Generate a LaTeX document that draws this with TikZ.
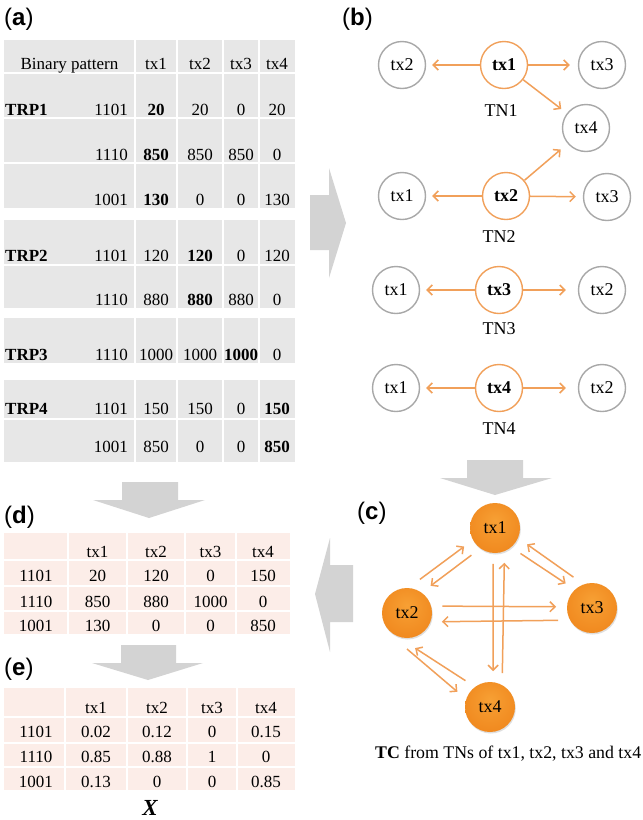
\documentclass[tikz,border=0pt]{standalone}
\usepackage{fontspec}
\setmainfont{Liberation Serif}
\newfontfamily\labfont{Liberation Sans}
\usetikzlibrary{arrows.meta,shadows}
\definecolor{tgrey}{RGB}{231,231,231}
\definecolor{tpink}{RGB}{252,237,232}
\definecolor{bigarrow}{RGB}{211,211,211}
\definecolor{orangeline}{RGB}{241,160,90}
\definecolor{greyline}{RGB}{168,168,168}
\definecolor{orbin}{RGB}{247,160,52}
\definecolor{orbmid}{RGB}{240,136,30}
\definecolor{orbout}{RGB}{205,100,15}
\pgfdeclareradialshading{orb}{\pgfpoint{0bp}{8bp}}{color(0bp)=(orbin); color(30bp)=(orbmid); color(45bp)=(orbout); color(50bp)=(orbout)}
\tikzset{
  tcell/.style={font=\fontsize{17}{20}\selectfont, inner sep=0pt, anchor=base},
  bcirc/.style={circle, draw=greyline, line width=1.4pt, minimum size=47pt, inner sep=0pt, font=\fontsize{18}{21}\selectfont},
  bcent/.style={bcirc, draw=orangeline, font=\fontsize{18}{21}\selectfont\bfseries},
  barr/.style={draw=orangeline, line width=1.5pt, -{Straight Barb[length=5pt,width=10pt]}},
  orbnode/.style={circle, shading=orb, minimum size=50pt, inner sep=0pt, outer sep=11pt, font=\fontsize{18}{21}\selectfont,
    drop shadow={shadow xshift=0.8pt, shadow yshift=-1.5pt, opacity=0.25}},
  carr/.style={draw=orangeline, line width=1.5pt, -{Straight Barb[length=5pt,width=10pt]}},
  plabel/.style={font=\fontsize{24}{28}\selectfont\labfont, inner sep=0pt, anchor=base west},
  tnlab/.style={font=\fontsize{18}{21}\selectfont, inner sep=0pt},
  gridline/.style={white, line width=1.5pt}
}
\begin{document}
\begin{tikzpicture}[x=1pt,y=-1pt]
\useasboundingbox[fill=white] (0,0) rectangle (643,820);

% panel labels
\node[plabel] (la) at (4,25) {(\textbf{a})};
\node[plabel] (lb) at (342,25) {(\textbf{b})};
\node[plabel] (lc) at (357,519) {(\textbf{c})};
\node[plabel] (ld) at (4,523) {(\textbf{d})};
\node[plabel] (le) at (4,675) {(\textbf{e})};

% big grey arrows
\fill[bigarrow] (310,195) -- (329,195) -- (329,168) -- (346,223) -- (329,278) -- (329,250) -- (310,250) -- cycle;
\fill[bigarrow] (122,482) -- (178,482) -- (178,500) -- (205,500) -- (149,518) -- (93,500) -- (122,500) -- cycle;
\fill[bigarrow] (121,645) -- (176,645) -- (176,663) -- (203,663) -- (148,680) -- (92,663) -- (121,663) -- cycle;
\fill[bigarrow] (467,460) -- (523,460) -- (523,478) -- (552,478) -- (495,495) -- (440,478) -- (467,478) -- cycle;
\fill[bigarrow] (353,565) -- (353,622) -- (330,622) -- (330,652) -- (315,594) -- (330,538) -- (330,565) -- cycle;

% ---------- table (a)
\fill[tgrey] (4,40) rectangle (295,208);
\fill[tgrey] (4,220) rectangle (295,308);
\fill[tgrey] (4,318) rectangle (295,363);
\fill[tgrey] (4,380) rectangle (295,462);
\foreach \t/\b in {40/208,220/308,318/363,380/462}
  \foreach \x in {135,177,223,259} \draw[gridline] (\x,\t) -- (\x,\b);
\foreach \yy in {73,118,163,265,419} \draw[gridline] (4,\yy) -- (295,\yy);

\node[tcell] (ah0) at (69.5,69) {Binary pattern};
\foreach \x/\t [count=\i] in {156/tx1,200/tx2,241/tx3,277/tx4}
  \node[tcell] (ah\i) at (\x,69) {\t};
\node[tcell, anchor=base west] (trp1) at (5,115) {\textbf{TRP1}};
\node[tcell, anchor=base west] (trp2) at (5,261) {\textbf{TRP2}};
\node[tcell, anchor=base west] (trp3) at (5,360) {\textbf{TRP3}};
\node[tcell, anchor=base west] (trp4) at (5,414) {\textbf{TRP4}};
\foreach \y/\pat/\va/\vb/\vc/\vd [count=\i] in {
  115/1101/\textbf{20}/20/0/20,
  160/1110/\textbf{850}/850/850/0,
  205/1001/\textbf{130}/0/0/130,
  261/1101/120/\textbf{120}/0/120,
  305/1110/880/\textbf{880}/880/0,
  360/1110/1000/1000/\textbf{1000}/0,
  414/1101/150/150/0/\textbf{150},
  452/1001/850/0/0/\textbf{850}}
{
  \node[tcell, anchor=base east] (ap\i) at (128,\y) {\pat};
  \node[tcell] (av\i-1) at (156,\y) {\va};
  \node[tcell] (av\i-2) at (200,\y) {\vb};
  \node[tcell] (av\i-3) at (241,\y) {\vc};
  \node[tcell] (av\i-4) at (277,\y) {\vd};
}

% ---------- table (d)
\fill[tpink] (4,533) rectangle (290,634);
\foreach \x in {68,127,185,236} \draw[gridline, line width=1.2pt] (\x,533) -- (\x,634);
\foreach \yy in {560,586,611} \draw[gridline, line width=1.2pt] (4,\yy) -- (290,\yy);
\foreach \x/\t [count=\i] in {97.5/tx1,156/tx2,210.5/tx3,263/tx4}
  \node[tcell] (dh\i) at (\x,557) {\t};
\foreach \y/\pat/\va/\vb/\vc/\vd [count=\i] in {
  581/1101/20/120/0/150,
  607/1110/850/880/1000/0,
  631/1001/130/0/0/850}
{
  \node[tcell] (dp\i) at (36,\y) {\pat};
  \node[tcell] (dv\i-1) at (97.5,\y) {\va};
  \node[tcell] (dv\i-2) at (156,\y) {\vb};
  \node[tcell] (dv\i-3) at (210.5,\y) {\vc};
  \node[tcell] (dv\i-4) at (263,\y) {\vd};
}

% ---------- table (e)
\fill[tpink] (4,688) rectangle (295,790);
\foreach \x in {65,127,187,237} \draw[gridline, line width=1.2pt] (\x,688) -- (\x,790);
\foreach \yy in {717,743,767} \draw[gridline, line width=1.2pt] (4,\yy) -- (295,\yy);
\foreach \x/\t [count=\i] in {96/tx1,157/tx2,212/tx3,266/tx4}
  \node[tcell] (eh\i) at (\x,713) {\t};
\foreach \y/\pat/\va/\vb/\vc/\vd [count=\i] in {
  737/1101/0.02/0.12/0/0.15,
  762/1110/0.85/0.88/1/0,
  787/1001/0.13/0/0/0.85}
{
  \node[tcell] (ep\i) at (36,\y) {\pat};
  \node[tcell] (ev\i-1) at (96,\y) {\va};
  \node[tcell] (ev\i-2) at (157,\y) {\vb};
  \node[tcell] (ev\i-3) at (212,\y) {\vc};
  \node[tcell] (ev\i-4) at (266,\y) {\vd};
}
\node[font=\fontsize{23}{26}\selectfont\bfseries\itshape, inner sep=0pt, anchor=base] (xlab) at (150,815.5) {X};

% ---------- panel (b)
\node[bcent] (b1c) at (504,65) {tx1};
\node[bcirc] (b1l) at (402,65) {tx2};
\node[bcirc] (b1r) at (602,65) {tx3};
\node[bcirc] (b1d) at (586,128) {tx4};
\node[tnlab] (tn1) at (501,110.5) {TN1};
\draw[barr, shorten >=6pt] (b1c) -- (b1l);
\draw[barr, shorten >=8pt] (b1c) -- (b1r);
\draw[barr, shorten >=7pt] (b1c) -- (b1d);

\node[bcent] (b2c) at (506,196) {tx2};
\node[bcirc] (b2l) at (402,196) {tx1};
\node[bcirc] (b2r) at (607,197) {tx3};
\node[tnlab] (tn2) at (499,236.5) {TN2};
\draw[barr, shorten >=6pt] (b2c) -- (b2l);
\draw[barr, shorten >=7pt] (b2c) -- (b2r);
\draw[barr, shorten >=9pt] (b2c) -- (b1d);

\node[bcent] (b3c) at (499,290) {tx3};
\node[bcirc] (b3l) at (396,290) {tx1};
\node[bcirc] (b3r) at (602,290) {tx2};
\node[tnlab] (tn3) at (499,328.5) {TN3};
\draw[barr, shorten >=6pt] (b3c) -- (b3l);
\draw[barr, shorten >=12pt] (b3c) -- (b3r);

\node[bcent] (b4c) at (499,388) {tx4};
\node[bcirc] (b4l) at (396,388) {tx1};
\node[bcirc] (b4r) at (602,388) {tx2};
\node[tnlab] (tn4) at (499,428.5) {TN4};
\draw[barr, shorten >=6pt] (b4c) -- (b4l);
\draw[barr, shorten >=12pt] (b4c) -- (b4r);

% ---------- panel (c)
\node[orbnode] (c1) at (495,528) {tx1};
\node[orbnode] (c2) at (407,613) {tx2};
\node[orbnode] (c3) at (592,608) {tx3};
\node[orbnode] (c4) at (490,707) {tx4};
\draw[carr] (c1.229) -- (c2.49);
\draw[carr] (c2.69) -- (c1.211);
\draw[carr] (c1.315) -- (c3.137);
\draw[carr] (c3.121) -- (c1.333);
\draw[carr] (c2.11) -- (c3.178);
\draw[carr] (c3.200) -- (c2.346);
\draw[carr] (c1.267) -- (c4.85);
\draw[carr] (c4.70) -- (c1.285);
\draw[carr] (c4.133) -- (c2.283);
\draw[carr] (c2.270) -- (c4.155);
\node[font=\fontsize{17.8}{21}\selectfont, inner sep=0pt, anchor=base west] (tc) at (375,758) {\textbf{TC} from TNs of tx1, tx2, tx3 and tx4};
\end{tikzpicture}
\end{document}
